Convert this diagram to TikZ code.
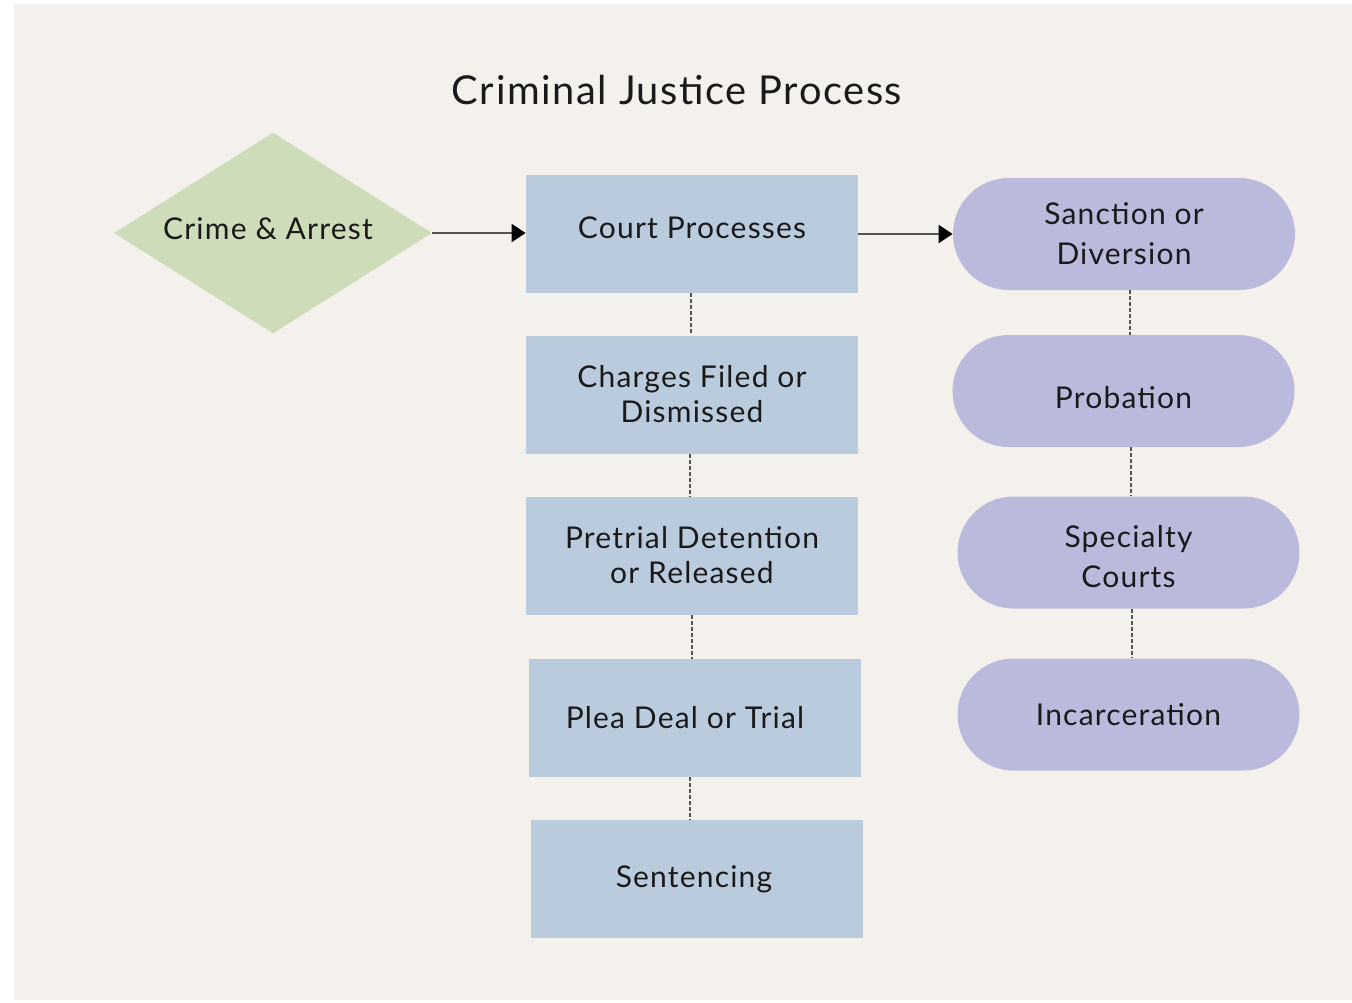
\documentclass[tikz,border=0pt]{standalone}
\usepackage{fontspec}
\setmainfont{Lato}[LetterSpace=4]
\usetikzlibrary{shapes.geometric,shapes.misc,arrows.meta}

\definecolor{pagebg}{HTML}{F4F1EC}
\definecolor{crimegreen}{HTML}{CDDDB9}
\definecolor{courtblue}{HTML}{BACBDD}
\definecolor{outlav}{HTML}{BABADC}
\definecolor{inkdark}{HTML}{1A1A1A}
\definecolor{linegray}{HTML}{555555}

% shift a label vertically without changing the size of its box
\newcommand{\nudge}[2]{\raisebox{#1}[\height][\depth]{#2}}

\tikzset{
  lbl/.style={font=\fontsize{15}{17.5}\selectfont, text=inkdark, align=center},
  crimebox/.style={diamond, fill=crimegreen, inner sep=0pt, aspect=1.58,
    minimum width=159pt, minimum height=100.5pt, lbl},
  courtbox/.style={rectangle, fill=courtblue, inner sep=0pt,
    minimum width=166pt, minimum height=59pt, lbl},
  outcomebox/.style={rounded rectangle, fill=outlav, inner sep=0pt,
    minimum width=171pt, minimum height=56pt, lbl,
    font=\fontsize{15}{20}\selectfont},
  flowarrow/.style={draw=linegray, line width=1pt,
    -{Triangle[length=7pt,width=9pt,color=black]}},
  linkline/.style={draw=linegray, line width=1pt, dash pattern=on 2pt off 1pt}
}

\begin{document}
\begin{tikzpicture}[x=0.5pt,y=-0.5pt]
  % canvas
  \useasboundingbox (0,0) rectangle (1352,1002);
  \fill[white] (0,0) rectangle (1352,1002);
  \fill[pagebg] (14,4) rectangle (1352,1000);

  % heading
  \node[font=\fontsize{19.9}{22}\selectfont, text=inkdark] (title) at (677,90) {Criminal Justice Process};

  % entry point
  \node[crimebox] (crime) at (273,233) {\nudge{2pt}{\kern-2.5pt Crime \& Arrest\kern2.5pt}};

  % court stages
  \node[courtbox] (court)    at (692,234) {\nudge{3pt}{Court Processes}};
  \node[courtbox] (charges)  at (692,394.5) {Charges Filed or\\Dismissed};
  \node[courtbox] (pretrial) at (692,555.5) {Pretrial Detention\\or Released};
  \node[courtbox] (plea)     at (695,718) {\kern-5pt Plea Deal or Trial\kern5pt};
  \node[courtbox] (sentence) at (697,879) {\kern-1.5pt Sentencing\kern1.5pt};

  % outcomes
  \node[outcomebox] (sanction)  at (1124,234)   {Sanction or\\Diversion};
  \node[outcomebox] (probation) at (1123.5,391) {\nudge{-3.5pt}{Probation}};
  \node[outcomebox] (specialty) at (1128.5,552.5) {\nudge{-3.5pt}{\begin{tabular}{@{}c@{}}Specialty\\Courts\end{tabular}}};
  \node[outcomebox] (prison)    at (1128.5,714.5) {Incarceration};

  % main flow
  \draw[flowarrow] (crime.east) -- (crime.east -| court.west);
  \draw[flowarrow] (court.east) -- (sanction.west);

  % stage links
  \draw[linkline] (court.south -| 691,0) -- (charges.north -| 691,0);
  \draw[linkline] (charges.south -| 690,0) -- (pretrial.north -| 690,0);
  \draw[linkline] (pretrial.south -| 692,0) -- (plea.north -| 692,0);
  \draw[linkline] (plea.south -| 690,0) -- (sentence.north -| 690,0);

  \draw[linkline] (sanction.south -| 1130,0) -- (probation.north -| 1130,0);
  \draw[linkline] (probation.south -| 1131,0) -- (specialty.north -| 1131,0);
  \draw[linkline] (specialty.south -| 1132,0) -- (prison.north -| 1132,0);
\end{tikzpicture}
\end{document}
